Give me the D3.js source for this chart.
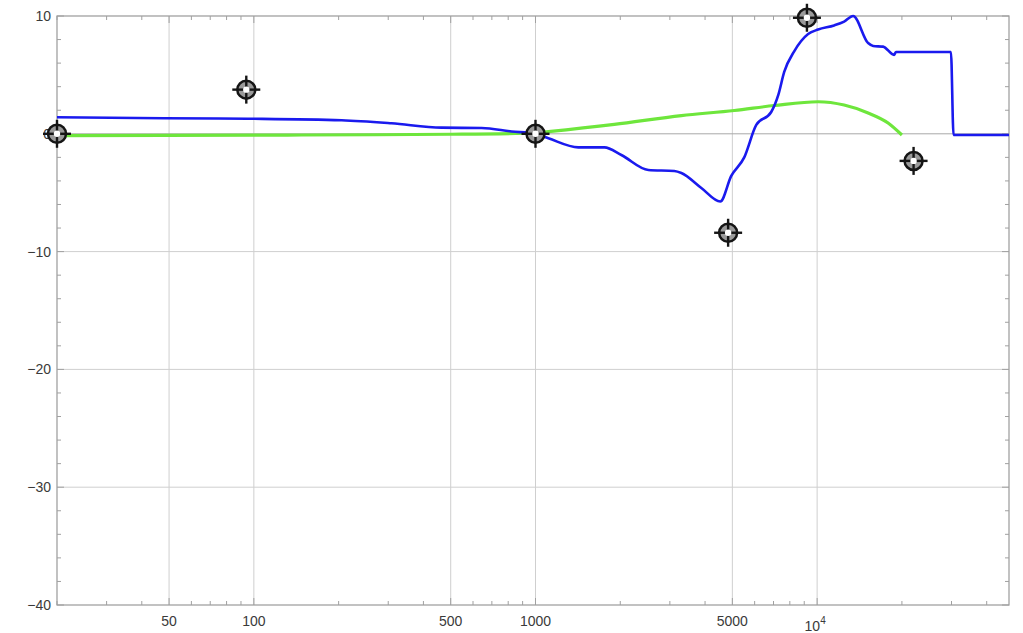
<!DOCTYPE html>
<html>
<head>
<meta charset="utf-8">
<script src="https://cdn.jsdelivr.net/npm/d3@7"></script>
<style>
  html, body { margin: 0; padding: 0; background: #fff; }
  svg { display: block; }
  text { font-family: "Liberation Sans", Arial, sans-serif; }
</style>
</head>
<body>
<svg id="chart" width="1023" height="633"></svg>
<script>
// ---- data ----
const blueFreq = [20, 48, 95, 205, 308, 464, 644, 823, 1000, 1111, 1419, 1757, 2018, 2516, 3112, 3296, 3880, 4530, 4955, 5510, 6080, 6870, 7280, 7640, 8290, 9290, 10080, 11490, 12470, 13420, 15170, 15810, 17140, 18750, 19060, 29860, 30500, 48000];
const blueDb   = [1.40, 1.32, 1.28, 1.15, 0.89, 0.52, 0.49, 0.20, 0.00, -0.38, -1.15, -1.15, -1.80, -3.07, -3.16, -3.33, -4.60, -5.75, -3.58, -2.00, 0.75, 1.85, 3.30, 5.25, 7.00, 8.47, 8.85, 9.20, 9.53, 10.0, 7.70, 7.45, 7.40, 6.70, 6.95, 6.95, -0.10, -0.10];

const greenFreq = [20, 48, 148, 503, 1000, 1111, 1905, 3296, 5080, 7050, 10080, 12470, 15170, 17860, 20000];
const greenDb   = [-0.16, -0.14, -0.10, -0.04, 0.07, 0.18, 0.80, 1.55, 1.98, 2.40, 2.72, 2.44, 1.77, 0.92, -0.10];

const markerFreq = [20, 94, 1000, 4830, 9200, 22000];
const markerDb   = [0, 3.75, 0, -8.4, 9.85, -2.3];

const xMajorTicks = [50, 100, 500, 1000, 5000, 10000];
const xTickLabels = ["50", "100", "500", "1000", "5000", "10^4"];
const yMajorTicks = [10, 0, -10, -20, -30, -40];
const yTickLabels = ["10", "0", "\u221210", "\u221220", "\u221230", "\u221240"];

// ---- layout ----
const pL = 57, pR = 1009, pT = 16, pB = 605;
const svg = d3.select("#chart");

const x = d3.scaleLog().domain([20, 48000]).range([pL, pR]);
const y = d3.scaleLinear().domain([-40, 10]).range([pB, pT]);

// minor x ticks
const xMinor = [];
for (let dec = 10; dec <= 10000; dec *= 10) {
  for (let m = 1; m <= 9; m++) {
    const v = m * dec;
    if (v >= 20 && v <= 48000 && !xMajorTicks.includes(v)) xMinor.push(v);
  }
}
const yMinor = d3.range(-40, 10.01, 2).filter(v => !yMajorTicks.includes(v));

// grid
const g = svg.append("g");
g.selectAll("line.vg").data(xMajorTicks).join("line")
  .attr("x1", d => x(d)).attr("x2", d => x(d))
  .attr("y1", pT).attr("y2", pB)
  .attr("stroke", "#cfcfcf").attr("stroke-width", 1);
g.selectAll("line.hg").data(yMajorTicks.filter(d => d !== 0 && d !== 10 && d !== -40)).join("line")
  .attr("x1", pL).attr("x2", pR)
  .attr("y1", d => y(d)).attr("y2", d => y(d))
  .attr("stroke", "#cfcfcf").attr("stroke-width", 1);
// zero axis line
g.append("line").attr("x1", pL).attr("x2", pR)
  .attr("y1", y(0)).attr("y2", y(0))
  .attr("stroke", "#a8a8a8").attr("stroke-width", 1);

// frame
svg.append("rect").attr("x", pL).attr("y", pT)
  .attr("width", pR - pL).attr("height", pB - pT)
  .attr("fill", "none").attr("stroke", "#999").attr("stroke-width", 1.2);

// frame ticks
const tk = svg.append("g").attr("stroke", "#a0a0a0").attr("stroke-width", 1);
xMajorTicks.forEach(v => {
  tk.append("line").attr("x1", x(v)).attr("x2", x(v)).attr("y1", pB).attr("y2", pB - 7);
  tk.append("line").attr("x1", x(v)).attr("x2", x(v)).attr("y1", pT).attr("y2", pT + 7);
});
xMinor.forEach(v => {
  tk.append("line").attr("x1", x(v)).attr("x2", x(v)).attr("y1", pB).attr("y2", pB - 4);
  tk.append("line").attr("x1", x(v)).attr("x2", x(v)).attr("y1", pT).attr("y2", pT + 4);
});
yMajorTicks.forEach(v => {
  tk.append("line").attr("x1", pL).attr("x2", pL + 7).attr("y1", y(v)).attr("y2", y(v));
  tk.append("line").attr("x1", pR).attr("x2", pR - 7).attr("y1", y(v)).attr("y2", y(v));
});
yMinor.forEach(v => {
  tk.append("line").attr("x1", pL).attr("x2", pL + 4).attr("y1", y(v)).attr("y2", y(v));
  tk.append("line").attr("x1", pR).attr("x2", pR - 4).attr("y1", y(v)).attr("y2", y(v));
});

// y labels
svg.append("g").selectAll("text").data(yMajorTicks).join("text")
  .attr("x", pL - 6).attr("y", d => y(d)).attr("dy", "0.35em")
  .attr("text-anchor", "end").attr("font-size", 14).attr("fill", "#3a3a3a")
  .text((d, i) => yTickLabels[i]);

// x labels
const xl = svg.append("g");
xMajorTicks.forEach((v, i) => {
  const lab = xTickLabels[i];
  if (lab.includes("^")) {
    const [base, exp] = lab.split("^");
    const t = xl.append("text").attr("x", x(v) - 2).attr("y", pB + 26)
      .attr("text-anchor", "middle").attr("font-size", 14).attr("fill", "#3a3a3a");
    t.append("tspan").text(base);
    t.append("tspan").attr("dy", -7).attr("font-size", 10).text(exp);
  } else {
    xl.append("text").attr("x", x(v)).attr("y", pB + 21)
      .attr("text-anchor", "middle").attr("font-size", 14).attr("fill", "#3a3a3a")
      .text(lab);
  }
});

// lines
const line = d3.line().x(d => x(d[0])).y(d => y(d[1])).curve(d3.curveMonotoneX);
svg.append("path").datum(greenFreq.map((f, i) => [f, greenDb[i]]))
  .attr("d", line).attr("fill", "none")
  .attr("stroke", "#6ee63c").attr("stroke-width", 3.2);
svg.append("path").datum(blueFreq.map((f, i) => [f, blueDb[i]]))
  .attr("d", line).attr("fill", "none")
  .attr("stroke", "#1a1aee").attr("stroke-width", 2.6);

// markers
const mk = svg.append("g").selectAll("g").data(markerFreq.map((f, i) => [f, markerDb[i]])).join("g")
  .attr("transform", d => `translate(${x(d[0])},${y(d[1])})`);
mk.append("circle").attr("r", 9).attr("fill", "#9a9a9a").attr("stroke", "#151515").attr("stroke-width", 2.5);
mk.append("line").attr("x1", -14).attr("x2", 14).attr("y1", 0).attr("y2", 0).attr("stroke", "#151515").attr("stroke-width", 2.4);
mk.append("line").attr("y1", -14).attr("y2", 14).attr("x1", 0).attr("x2", 0).attr("stroke", "#151515").attr("stroke-width", 2.4);
mk.append("circle").attr("r", 3.2).attr("fill", "#fff");
</script>
</body>
</html>
